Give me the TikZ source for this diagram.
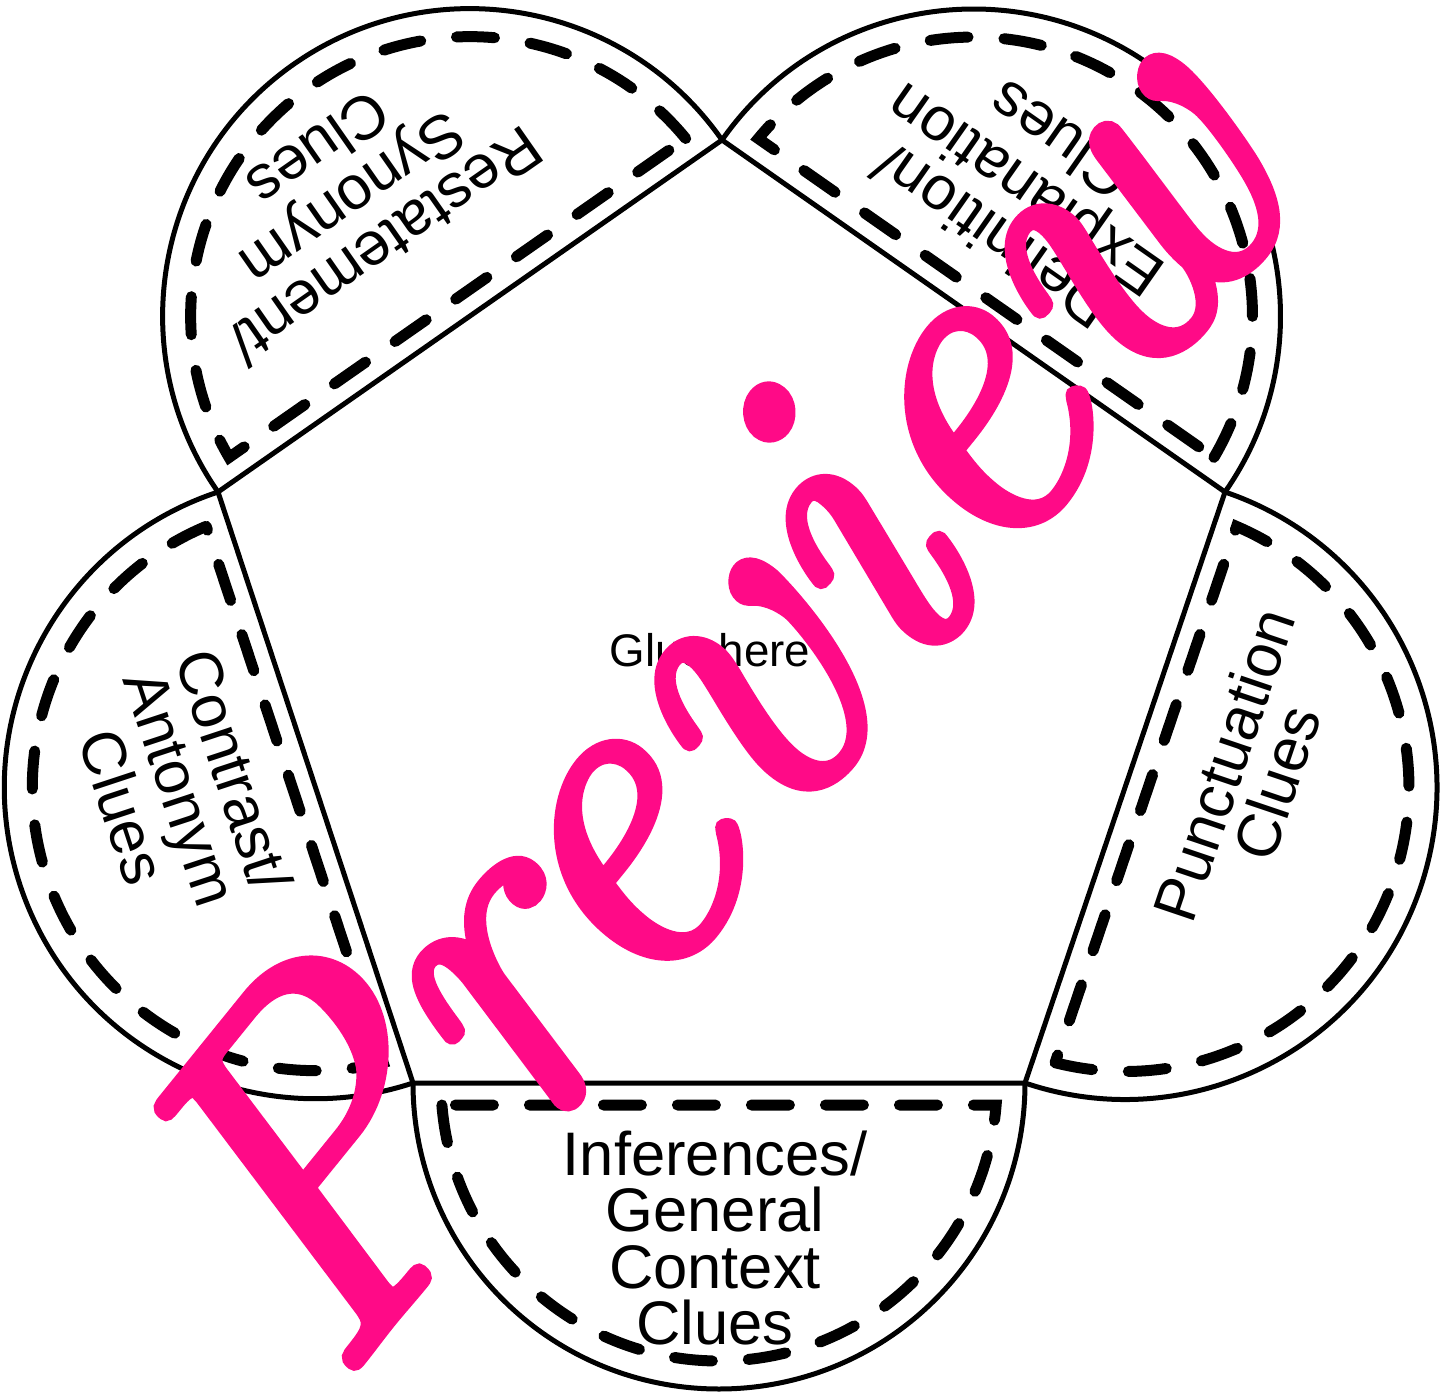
\documentclass[tikz,border=0pt]{standalone}
\usepackage{fontspec}
\setmainfont{Liberation Sans}
\newfontfamily\markfont[FakeBold=2.5]{Latin Modern Roman}
\usepackage{xcolor}
\usetikzlibrary{calc}

\definecolor{previewpink}{RGB}{255,10,135}

\tikzset{
  flapline/.style={line width=0.05cm},
  stitch/.style={line width=0.11cm, line cap=round, dash pattern=on 0.38cm off 0.36cm},
  cluetext/.style={align=center, inner sep=0pt, font=\fontsize{17.5}{16}\selectfont},
}

% one flap: #1,#2 pentagon corners (counter-clockwise), #3 node name,
% #4 label, #5 shift along the edge, #6 distance out from the edge
\newcommand{\cluelobe}[6]{%
  \path let \p1=($(#2)-(#1)$), \n1={atan2(\y1,\x1)}, \n2={veclen(\x1,\y1)/2}
    in \pgfextra{\pgfmathparse{\n1}\xdef\lobeang{\pgfmathresult}%
                 \pgfmathparse{\n2}\xdef\loberad{\pgfmathresult}};
  \begin{scope}[shift={($(#1)!0.5!(#2)$)}, rotate=\lobeang]
    \pgfmathsetmacro{\innerrad}{\loberad-7.97}
    \pgfmathsetmacro{\gapang}{asin(6.26/\innerrad)}
    \draw[flapline] (180:\loberad pt)
      arc[start angle=180, end angle=360, radius=\loberad pt];
    \draw[stitch] (180+\gapang:\innerrad pt)
      arc[start angle=180+\gapang, end angle=360-\gapang, radius=\innerrad pt] -- cycle;
    \node[cluetext, rotate=\lobeang] (#3) at (#5,-#6) {#4};
  \end{scope}
}

\begin{document}
\begin{tikzpicture}
  \useasboundingbox (0,0) rectangle (14.40,13.93);

  \coordinate (top) at (7.22,12.53);
  \coordinate (upright) at (12.25,9.01);
  \coordinate (lowright) at (10.25,3.10);
  \coordinate (lowleft) at (4.13,3.10);
  \coordinate (upleft) at (2.18,9.01);

  \draw[flapline] (top) -- (upleft) -- (lowleft) -- (lowright) -- (upright) -- cycle;
  \node[font=\fontsize{13}{15}\selectfont] (glue) at (7.10,7.43) {Glue here};

  % flaps, going round the pentagon
  \cluelobe{lowleft}{lowright}{inference}{Inferences/\\General\\Context\\Clues}{-0.04}{1.55}
  \cluelobe{lowright}{upright}{punctuation}{Punctuation\\Clues}{0.53}{1.14}
  \cluelobe{upright}{top}{definition}{Definition/\\Explanation\\Clues}{0.30}{1.34}
  \cluelobe{top}{upleft}{restatement}{Restatement/\\Synonym\\Clues}{0.29}{1.64}
  \cluelobe{upleft}{lowleft}{contrast}{Contrast/\\Antonym\\Clues}{-0.42}{1.30}

  % watermark over everything
  \node[text=previewpink, rotate=51, font=\markfont\itshape\fontsize{132}{132}\selectfont]
    (preview) at (7.0,7.0) {Preview};
\end{tikzpicture}
\end{document}
